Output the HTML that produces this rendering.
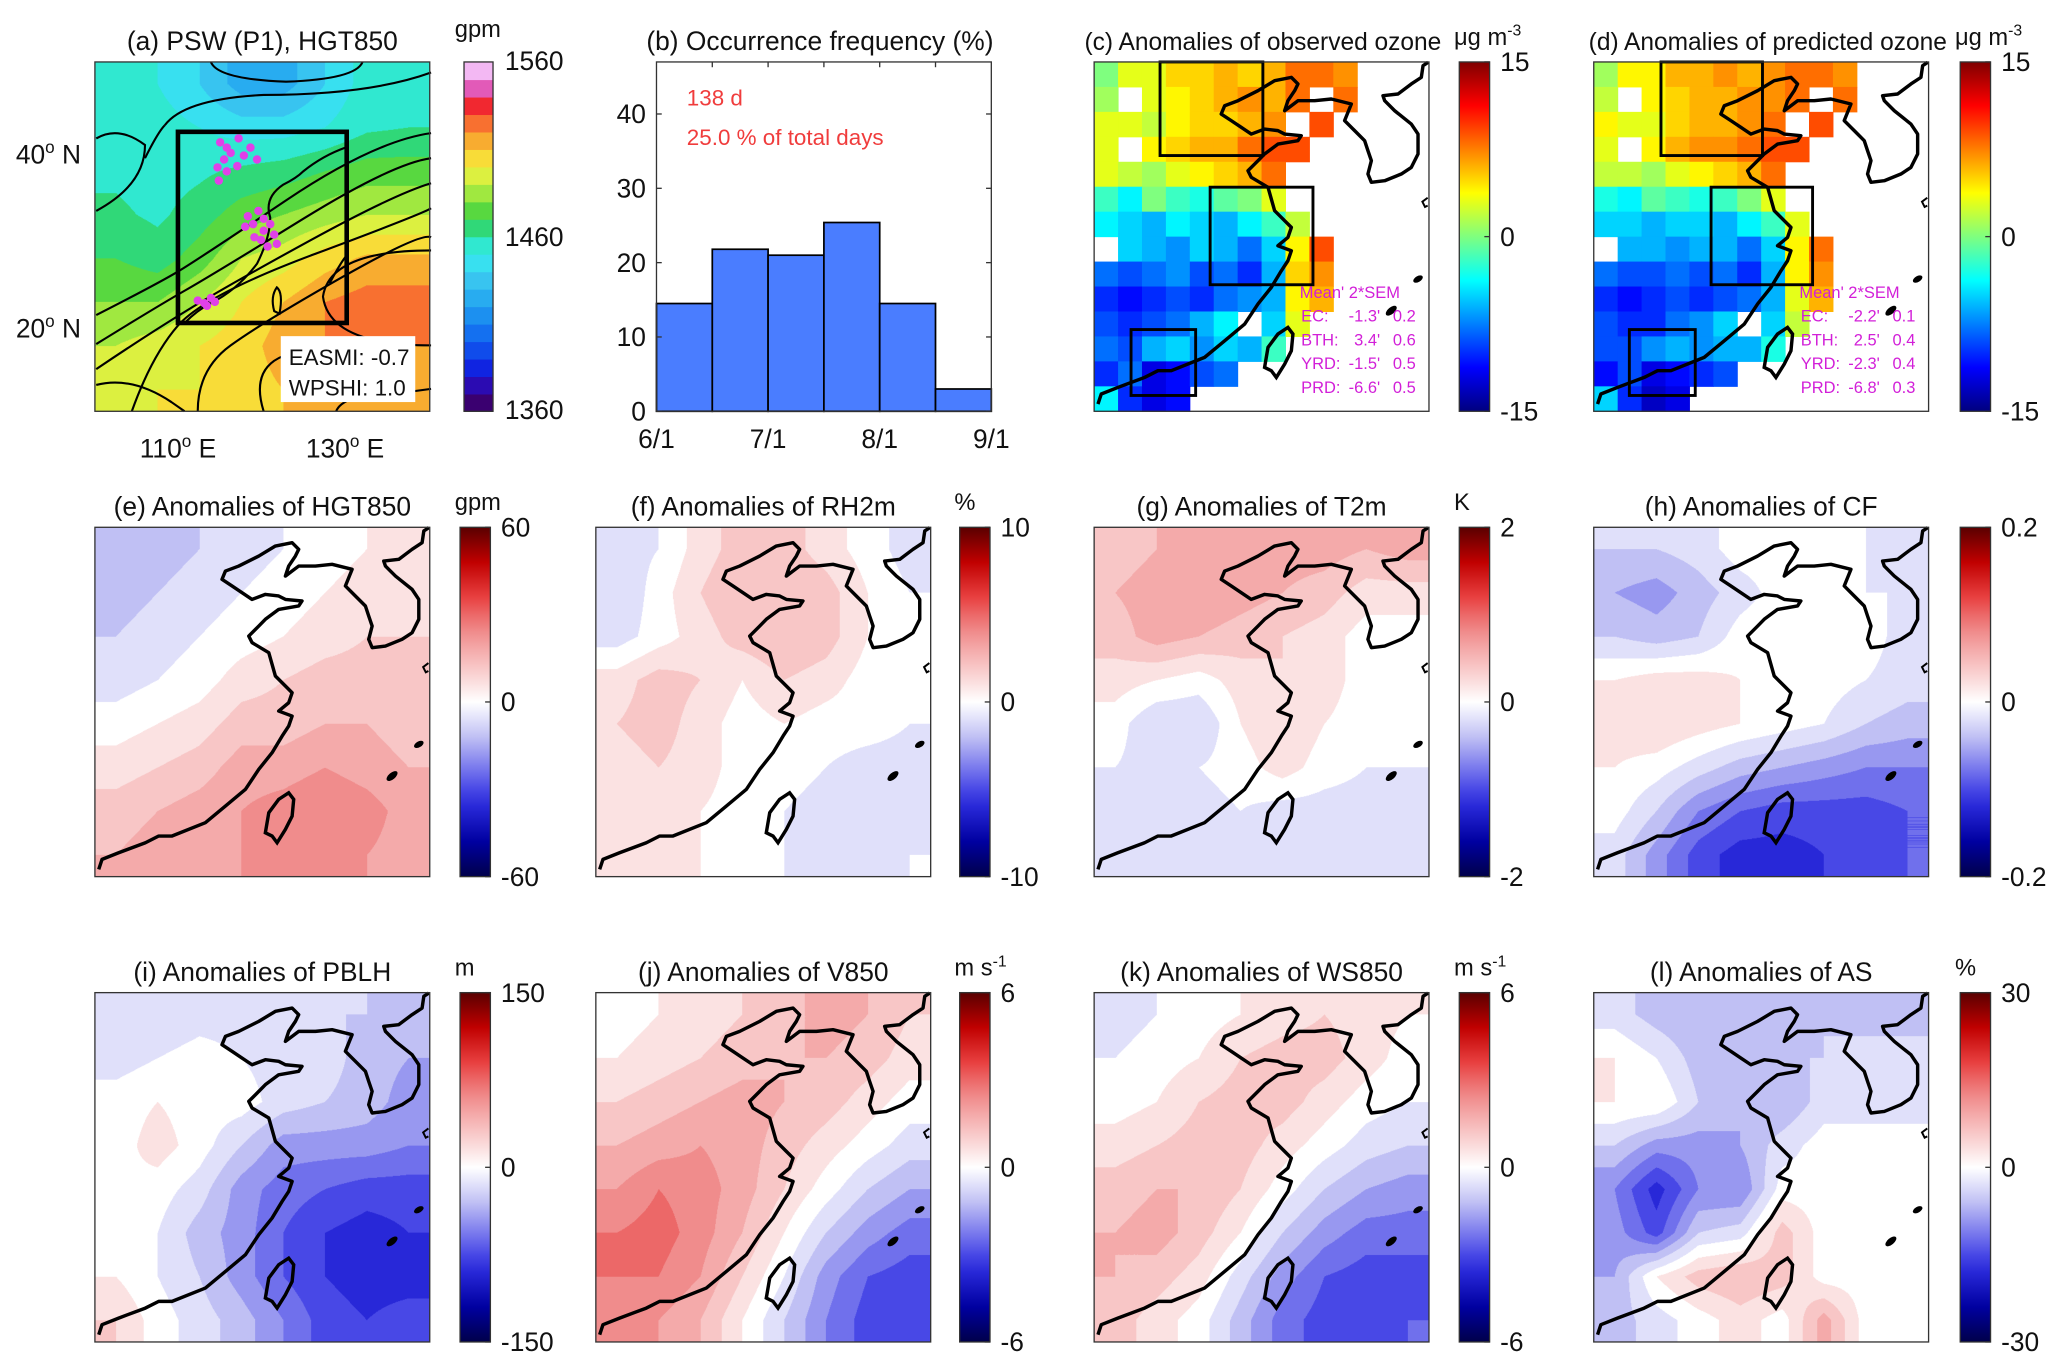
<!DOCTYPE html>
<html><head><meta charset="utf-8">
<style>
html,body{margin:0;padding:0;background:#fff;}
#wrap{position:relative;width:1568px;height:1040px;transform:scale(1.31824);transform-origin:0 0;overflow:hidden;}
canvas{position:absolute;}
svg{position:absolute;left:0;top:0;}
text{font-family:"Liberation Sans",Arial,sans-serif;}
</style></head>
<body>
<div id="wrap">
<svg id="svg" width="1568" height="1040" viewBox="0 0 1568 1040"></svg>
</div>
<script>
// ---------- DATA ----------
const histCategories=["6/1-6/15","6/16-6/30","7/1-7/15","7/16-7/31","8/1-8/15","8/16-8/31"];
const histValues=[14.5,21.8,21.0,25.4,14.5,3.0];
const histYTicks=[0,10,20,30,40];
const histXTickLabels=["6/1","7/1","8/1","9/1"];

const hgtField=[
[1455,1450,1440,1425,1425,1440,1455,1455],
[1455,1455,1450,1445,1445,1450,1458,1460],
[1458,1455,1458,1462,1465,1470,1475,1475],
[1462,1458,1465,1475,1480,1485,1490,1490],
[1470,1465,1475,1490,1495,1505,1512,1512],
[1480,1480,1490,1500,1510,1520,1525,1525],
[1490,1495,1500,1505,1515,1520,1522,1520],
[1495,1500,1500,1505,1510,1515,1512,1510]];

const N=null;
const ozoneObs=[
[0,3,3,5,5,6,5,6,8,8,7,N,N,N],
[1,N,3,4,5,6,7,6,8,N,8,N,N,N],
[3,3,2,4,5,5,6,7,N,9,N,N,N,N],
[3,N,4,5,6,6,8,9,9,N,N,N,N,N],
[3,2,1,3,4,5,6,8,N,N,N,N,N,N],
[-2,-4,0,-2,-3,-1,0,3,N,N,N,N,N,N],
[-4,-5,-6,-4,-5,-6,-4,-2,2,N,N,N,N,N],
[N,-5,-6,-7,-5,-6,-8,-5,4,9,N,N,N,N],
[-8,-9,-8,-7,-9,-8,-10,-6,5,7,N,N,N,N],
[-10,-11,-10,-9,-10,-8,-7,-6,4,6,N,N,N,N],
[-9,-10,-9,-8,-6,-4,N,-5,3,N,N,N,N,N],
[-8,-9,-6,-5,-7,-5,-6,-2,N,N,N,N,N,N],
[-10,-8,-12,-11,-9,-8,N,N,N,N,N,N,N,N],
[-4,-10,-12,-11,N,N,N,N,N,N,N,N,N,N]];
const ozonePred=[
[1,4,4,6,6,7,6,7,8,8,7,N,N,N],
[2,N,4,5,6,6,7,7,8,N,8,N,N,N],
[4,3,3,5,6,6,7,8,N,9,N,N,N,N],
[3,N,4,6,7,7,8,9,9,N,N,N,N,N],
[2,2,1,3,4,5,6,8,N,N,N,N,N,N],
[-3,-4,-1,-2,-3,-2,0,3,N,N,N,N,N,N],
[-5,-5,-6,-5,-5,-6,-4,-2,3,N,N,N,N,N],
[N,-6,-6,-7,-6,-6,-8,-5,4,8,N,N,N,N],
[-8,-9,-9,-8,-9,-8,-10,-6,4,7,N,N,N,N],
[-10,-11,-10,-9,-10,-9,-8,-6,3,6,N,N,N,N],
[-9,-10,-10,-8,-7,-5,N,-5,2,N,N,N,N,N],
[-9,-9,-7,-6,-7,-6,-6,-3,N,N,N,N,N,N],
[-11,-9,-12,-11,-10,-9,N,N,N,N,N,N,N,N],
[-5,-10,-13,-12,N,N,N,N,N,N,N,N,N,N]];

const anomHGT=[
[-.2,-.2,-.15,-.1,-.05,0,.05,.05],[-.2,-.15,-.1,-.05,0,.05,.1,.1],[-.15,-.1,-.05,0,.05,.1,.15,.15],
[-.1,-.05,0,.1,.15,.2,.2,.2],[0,.05,.1,.2,.2,.25,.25,.2],[.1,.15,.2,.3,.3,.35,.3,.25],
[.2,.25,.3,.35,.4,.45,.4,.3],[.25,.3,.3,.35,.4,.4,.35,.3]];
const anomRH=[
[-.1,-.05,.1,.2,.2,.1,0,-.1],[-.15,0,.15,.25,.25,.2,.05,-.05],[-.1,0,.1,.2,.25,.2,.05,0],
[.1,.2,.15,.05,.15,.1,0,0],[.15,.2,.1,0,.05,0,0,-.05],[.1,.15,.1,0,0,-.05,-.1,-.1],
[.15,.1,.05,0,-.05,-.1,-.15,-.1],[.1,.1,.05,0,-.05,-.1,-.1,-.05]];
const anomT2=[
[.2,.25,.3,.3,.3,.3,.25,.3],[.25,.3,.35,.3,.25,.2,.1,.1],[.2,.3,.25,.2,.15,.1,0,0],
[.1,.05,0,.1,.15,.1,0,0],[0,-.15,-.15,.05,.15,.05,0,0],[-.05,-.1,-.05,0,.1,0,-.05,-.05],
[-.1,-.1,-.1,-.05,-.1,-.1,-.1,-.1],[-.15,-.1,-.1,-.1,-.15,-.15,-.1,-.1]];
const anomCF=[
[-.15,-.15,-.1,0,0,0,-.05,-.1],[-.25,-.3,-.2,-.1,0,0,-.05,-.05],[-.15,-.2,-.15,0,.05,0,0,-.1],
[.05,.1,.1,.05,0,0,-.05,-.1],[.1,.15,.1,.05,0,-.05,-.15,-.2],[.05,0,-.1,-.2,-.25,-.3,-.35,-.35],
[0,-.15,-.35,-.45,-.5,-.5,-.5,-.45],[-.1,-.3,-.5,-.6,-.6,-.55,-.5,-.45]];
const anomPBLH=[
[-.15,-.15,-.1,-.1,-.1,-.15,-.15,-.2],[-.1,-.05,0,-.05,-.1,-.1,-.2,-.25],[0,.05,0,0,-.1,-.15,-.2,-.3],
[0,.1,0,-.15,-.3,-.3,-.3,-.35],[.05,0,-.1,-.3,-.4,-.45,-.5,-.5],[0,-.05,-.2,-.3,-.45,-.55,-.6,-.55],
[.05,-.05,-.15,-.3,-.45,-.55,-.6,-.6],[.15,0,-.1,-.2,-.35,-.5,-.55,-.5]];
const anomV850=[
[0,.05,.1,.15,.2,.3,.25,.15],[.05,.1,.15,.2,.25,.25,.2,.1],[.15,.2,.25,.3,.25,.2,.1,0],
[.25,.3,.35,.3,.2,.1,0,-.1],[.35,.45,.4,.3,.15,0,-.15,-.25],[.45,.5,.4,.25,.05,-.15,-.3,-.4],
[.45,.45,.35,.15,-.05,-.3,-.45,-.5],[.4,.35,.25,.05,-.15,-.35,-.5,-.55]];
const anomWS850=[
[-.1,-.05,0,.05,.1,.15,.1,.05],[-.05,0,.05,.15,.2,.2,.1,0],[0,.05,.15,.2,.2,.1,0,-.05],
[.1,.15,.2,.2,.1,0,-.1,-.15],[.2,.25,.25,.15,0,-.15,-.25,-.3],[.25,.3,.2,.05,-.15,-.3,-.4,-.4],
[.25,.2,.1,-.1,-.3,-.45,-.5,-.5],[.2,.1,0,-.2,-.4,-.5,-.5,-.45]];
const anomAS=[
[-.1,-.2,-.25,-.2,-.2,-.15,-.2,-.2],[.05,-.05,-.2,-.2,-.15,-.15,-.1,-.1],[.05,.05,-.15,-.25,-.25,-.1,-.1,-.1],
[-.15,-.3,-.3,-.25,-.1,0,0,0],[-.35,-.6,-.35,-.35,0,0,0,0],[-.3,-.5,-.15,-.1,.2,0,0,0],
[-.25,.05,.2,.25,.2,0,0,0],[-.2,-.1,0,.1,0,.3,0,0]];

const statsLabels=["EC:","BTH:","YRD:","PRD:"];
const statsObsMean=[-1.3,3.4,-1.5,-6.6];
const statsObsSem=[0.2,0.6,0.5,0.5];
const statsPredMean=[-2.2,2.5,-2.3,-6.8];
const statsPredSem=[0.1,0.4,0.4,0.3];

// ---------- HELPERS ----------
const svg=document.getElementById('svg');
const NS='http://www.w3.org/2000/svg';
const wrap=document.getElementById('wrap');
function mk(tag,attrs,parent){const e=document.createElementNS(NS,tag);for(const k in attrs)e.setAttribute(k,attrs[k]);(parent||svg).appendChild(e);return e;}
function txt(x,y,s,size,anchor,parent,fill){const t=mk('text',{x:x,y:y,'font-size':size||20,'text-anchor':anchor||'start'},parent);t.style.fill=fill||'#111';t.textContent=s;return t;}
function hex(h){return [parseInt(h.substr(1,2),16),parseInt(h.substr(3,2),16),parseInt(h.substr(5,2),16)];}
function ramp(stops,t){t=Math.max(0,Math.min(1,t));for(let i=1;i<stops.length;i++){if(t<=stops[i][0]){const a=stops[i-1],b=stops[i];const f=(t-a[0])/(b[0]-a[0]||1);const ca=hex(a[1]),cb=hex(b[1]);return [0,1,2].map(k=>Math.round(ca[k]+(cb[k]-ca[k])*f));}}return hex(stops[stops.length-1][1]);}
const divStops=[[0,'#00004a'],[0.1,'#0000a0'],[0.2,'#2828d8'],[0.25,'#4848e6'],[0.3,'#7070ec'],[0.35,'#9898f0'],[0.4,'#c0c0f4'],[0.45,'#e0e0fa'],[0.5,'#ffffff'],[0.55,'#fbe2e2'],[0.6,'#f8c6c6'],[0.65,'#f4aaaa'],[0.7,'#f08c8c'],[0.75,'#ec6868'],[0.8,'#e84040'],[0.9,'#c00000'],[1,'#5a0000']];
const jetStops=[[0,'#00007f'],[0.125,'#0000ff'],[0.375,'#00ffff'],[0.5,'#7fff7f'],[0.625,'#ffff00'],[0.875,'#ff0000'],[1,'#7f0000']];
const gpmStops=[[0,'#3a0048'],[0.05,'#3a0098'],[0.12,'#1020e0'],[0.2,'#1060f0'],[0.3,'#20a0f0'],[0.4,'#40d0f0'],[0.45,'#30f0f0'],[0.5,'#30e0b0'],[0.55,'#30d040'],[0.6,'#80e040'],[0.65,'#c0f040'],[0.7,'#f8f040'],[0.75,'#f8c830'],[0.8,'#f89030'],[0.85,'#f85030'],[0.88,'#f02030'],[0.92,'#e050b0'],[0.96,'#f0a0f0'],[1,'#f8e0f8']];
function css(c){return 'rgb('+c.join(',')+')';}
function gradient(id,stops){const d=svg.querySelector('defs')||mk('defs',{});const g=mk('linearGradient',{id:id,x1:0,y1:1,x2:0,y2:0},d);stops.forEach(s=>mk('stop',{offset:s[0],'stop-color':s[1]},g));}
gradient('gDiv',divStops);gradient('gJet',jetStops);

function sampleGrid(g,x,y){const n=g.length,m=g[0].length;let gx=x*m-0.5,gy=y*n-0.5;gx=Math.max(0,Math.min(m-1,gx));gy=Math.max(0,Math.min(n-1,gy));
 const i0=Math.floor(gx),j0=Math.floor(gy),i1=Math.min(m-1,i0+1),j1=Math.min(n-1,j0+1),fx=gx-i0,fy=gy-j0;
 return g[j0][i0]*(1-fx)*(1-fy)+g[j0][i1]*fx*(1-fy)+g[j1][i0]*(1-fx)*fy+g[j1][i1]*fx*fy;}
function fieldCanvas(name,x,y,w,h,grid,colorFn){const c=document.createElement('canvas');
 const S=2;c.width=w*S;c.height=h*S;c.style.left=x+'px';c.style.top=y+'px';c.style.width=w+'px';c.style.height=h+'px';
 const ctx=c.getContext('2d');const im=ctx.createImageData(c.width,c.height);
 for(let py=0;py<c.height;py++)for(let px=0;px<c.width;px++){const v=sampleGrid(grid,(px+0.5)/c.width,(py+0.5)/c.height);const col=colorFn(v);const o=(py*c.width+px)*4;im.data[o]=col[0];im.data[o+1]=col[1];im.data[o+2]=col[2];im.data[o+3]=255;}
 ctx.putImageData(im,0,0);wrap.insertBefore(c,svg);}

const coastMain="M2.9,259.5 L5.4,251.9 18,246.9 38.3,239.3 48.4,234.2 58.5,234.2 83.8,224.1 99,211.5 114.2,198.8 124.3,183.6 134.4,171 142,158.4 147,150.8 149.6,143.2 139.4,139.4 147,133.1 149.6,125.5 144.5,120.4 136.9,112.8 131.9,95.1 119.2,87.5 116.7,82.5 124.3,74.9 129.3,69.8 139.4,62.3 154.6,59.7 157.1,55.9 144.5,54.7 139.4,52.1 129.3,50.9 119.2,54.7 111.6,49.6 104,44.5 96.4,39.5 99,33.2 109.1,29.4 124.3,21.8 136.9,14.2 149.6,11.7 154.6,16.7 152.1,21.8 147,29.4 144.5,37 149.6,33.2 154.6,29.4 167.3,29.4 179.9,28.1 195.1,31.9 190,44.5 197.6,52.1 205.2,59.7 207.7,67.3 210.3,74.9 207.7,85 210.3,91.3 220.4,90.1 233,85 240.6,80 245.7,69.8 245.7,54.7 240.6,47.1 228,37 220.4,29.4 219.1,25.6 230.5,24.3 240.6,16.7 248.2,11.7 249.5,2.8 253.3,0.3";
const taiwan="M129.3,231.7 L131.9,216.5 139.4,206.4 147,201.4 150.8,206.4 149.6,219.1 144.5,229.2 138.2,239.3 134.4,234.2 Z";
function drawCoast(x,y,prefix){const g=mk('g',{transform:'translate('+x+','+y+')'});
 mk('path',{d:coastMain,fill:'none',stroke:'#000','stroke-width':2.6,'stroke-linejoin':'round'},g);
 mk('path',{d:taiwan,fill:'none',stroke:'#000','stroke-width':2.6},g);
 mk('ellipse',{cx:225.4,cy:188.7,rx:5,ry:2.5,transform:'rotate(-40 225.4 188.7)',fill:'#000'},g);
 mk('ellipse',{cx:245.7,cy:164.7,rx:4,ry:2.2,transform:'rotate(-30 245.7 164.7)',fill:'#000'},g);
 mk('path',{d:'M253,103 L249,106 251,110 253,109',fill:'none',stroke:'#000','stroke-width':1.5},g);}
function frame(x,y,w,h,name){const r=mk('rect',{x:x,y:y,width:w,height:h,fill:'none',stroke:'#333','stroke-width':1});}
function colorbar(x,y,h,grad,labels,unit,unitSup,name){const g=mk('g',{});
 if(grad)mk('rect',{x:x,y:y,width:23,height:h,fill:'url(#'+grad+')',stroke:'#333','stroke-width':1},g);
 labels.forEach((l,i)=>{const yy=y+h*i/(labels.length-1);txt(x+31,yy+7,l,20,'start',g);mk('line',{x1:x+19,x2:x+23,y1:yy,y2:yy,stroke:'#333'},g);});
 if(unit){const t=txt(x-4,y-13,unit,18,'start',g);if(unitSup){const s=mk('tspan',{dy:-7,'font-size':12},t);s.textContent=unitSup;}}}

// ---------- PANEL A ----------
const PW=254,PH=265;
const aX=72,aY=47;
fieldCanvas('panel-a-hgt850-field',aX,aY,PW,PH,hgtField,v=>{const t=(v-1360)/200;const q=Math.floor(t*20)/20+0.025;return ramp(gpmStops,q);});
(function(){const g=mk('g',{});
 const lines=["M73,239 Q120,215 135,206 T217,152 T327,101","M73,261 Q120,232 141,220 T230,166 T327,120","M73,280 Q110,255 141,236 T236,182 T327,139","M100,312 Q115,270 135,247 T238,193 T327,158","M150,312 Q150,280 175,262 T260,210 T327,180","M327,190 Q250,190 245,225 Q250,262 327,262","M160,47 Q165,60 217,62 Q270,60 275,47","M125,95 Q140,75 200,72 Q280,72 327,55","M73,105 Q90,95 110,110 Q110,140 73,160","M73,292 Q100,285 130,305 L140,312","M200,312 Q190,280 215,270","M255,312 Q260,300 290,300 L327,295","M110,120 Q120,100 125,95"];
 lines.forEach(d=>mk('path',{d:d,fill:'none',stroke:'#000','stroke-width':1.6},g));
 mk('path',{d:'M140,245 Q150,235 160,230 Q180,220 195,200 Q205,180 205,165 Q200,150 215,140 Q225,135 230,130 Q245,118 262,112',fill:'none',stroke:'#000','stroke-width':1.6},g);
 mk('path',{d:'M208,236 Q205,225 210,218 Q215,222 212,238 Z',fill:'none',stroke:'#000','stroke-width':1.6},g);
 mk('path',{d:'M250,215 Q258,200 262,195',fill:'none',stroke:'#000','stroke-width':1.6},g);
})();
(function(){const g=mk('g',{});
 const pts=[[167,108],[172,112],[181,105],[175,116],[170,121],[185,118],[190,112],[195,121],[165,127],[172,130],[166,137],[180,126],[188,164],[192,170],[196,160],[200,175],[205,170],[198,182],[203,187],[208,178],[186,172],[193,180],[210,185],[200,166],[150,228],[155,230],[160,226],[157,232],[163,229]];
 pts.forEach(p=>mk('circle',{cx:p[0],cy:p[1],r:3.2,fill:'#e040e8'},g));})();
mk('rect',{x:135,y:100,width:128,height:145,fill:'none',stroke:'#000','stroke-width':3.5});
(function(){const g=mk('g',{});
 mk('rect',{x:213,y:255,width:102,height:50,fill:'#fff'},g);txt(219,277,'EASMI:  -0.7',17,'start',g);txt(219,300,'WPSHI:   1.0',17,'start',g);})();
frame(aX,aY,PW,PH,'panel-a-frame');
txt(199,38,'(a) PSW (P1), HGT850',20,'middle');
(function(){function deg(x,y,n,s,name){const t=txt(x,y,n,20);const a=mk('tspan',{dy:-8,'font-size':13},t);a.textContent='o';const b=mk('tspan',{dy:8},t);b.textContent=' '+s;}
 deg(12,124,'40','N','lat-40n');deg(12,256,'20','N','lat-20n');deg(106,347,'110','E','lon-110e');deg(232,347,'130','E','lon-130e');})();
(function(){const g=mk('g',{});
 const n=20,h=PH/n;for(let i=0;i<n;i++){const c=ramp(gpmStops,(i+0.5)/n);mk('rect',{x:352,y:aY+PH-(i+1)*h,width:22,height:h+0.5,fill:css(c)},g);}
 mk('rect',{x:352,y:aY,width:22,height:PH,fill:'none',stroke:'#333'},g);
 txt(383,aY+6,'1560',20,'start',g);txt(383,aY+PH/2+7,'1460',20,'start',g);txt(383,aY+PH+6,'1360',20,'start',g);
 txt(345,28,'gpm',18,'start',g);})();

// ---------- PANEL B ----------
(function(){const bx=498,by=47,bw=254,bh=265,ymax=47;
 const g=mk('g',{});
 const X=i=>bx+bw*i/histValues.length, Y=v=>by+bh-bh*v/ymax;
 histValues.forEach((v,i)=>{const r=mk('rect',{x:X(i),y:Y(v),width:bw/histValues.length,height:Y(0)-Y(v),fill:'#4a7dff',stroke:'#000','stroke-width':1.3},g);
  });
 mk('rect',{x:bx,y:by,width:bw,height:bh,fill:'none',stroke:'#333'},g);
 histYTicks.forEach(t=>{const yy=Y(t);mk('line',{x1:bx,x2:bx+4,y1:yy,y2:yy,stroke:'#333'},g);mk('line',{x1:bx+bw-4,x2:bx+bw,y1:yy,y2:yy,stroke:'#333'},g);
  txt(bx-8,yy+7,String(t),20,'end',g);});
 histXTickLabels.forEach((l,i)=>{const xx=bx+bw*i/(histXTickLabels.length-1);txt(xx,340,l,20,'middle',g);});
 for(let i=1;i<6;i++){const xx=bx+bw*i/6;mk('line',{x1:xx,x2:xx,y1:by,y2:by+4,stroke:'#333'},g);}
 txt(bx+23,80,'138 d',17,'start',g,'#f03c3c');txt(bx+23,110,'25.0 % of total days',17,'start',g,'#f03c3c');
 txt(622,38,'(b) Occurrence frequency (%)',20,'middle');})();

// ---------- PANELS C, D ----------
function ozonePanel(x,grid,title,meanArr,semArr,key,boxes){
 const g=mk('g',{});
 const rows=grid.length,cols=grid[0].length,cw=PW/cols,ch=PH/rows;
 grid.forEach((row,j)=>row.forEach((v,i)=>{if(v===null)return;const r=mk('rect',{x:x+i*cw,y:47+j*ch,width:cw+0.4,height:ch+0.4,fill:css(ramp(jetStops,(v+15)/30))},g);
  }));
 drawCoast(x,47,key);
 boxes.forEach(b=>{const r=mk('rect',{x:x+b[0],y:47+b[1],width:b[2],height:b[3],fill:'none',stroke:'#000','stroke-width':2.2});});
 const s=mk('g',{});
 txt(x+156,226,"Mean'  2*SEM",12.5,'start',s,'#d21fd8');
 statsLabels.forEach((l,i)=>{const yy=244+i*18;txt(x+157,yy,l,12.5,'start',s,'#d21fd8');txt(x+217,yy,meanArr[i].toFixed(1)+"'",12.5,'end',s,'#d21fd8');txt(x+244,yy,semArr[i].toFixed(1),12.5,'end',s,'#d21fd8');});
 frame(x,47,PW,PH,key+'-frame');
 txt(x+(key==='panel-c'?128:132),38,title,18.6,'middle');}
ozonePanel(830,ozoneObs,'(c) Anomalies of observed ozone',statsObsMean,statsObsSem,'panel-c',[[50,0,78,71],[88,95,78,74],[28,203,49,50]]);
ozonePanel(1209,ozonePred,'(d) Anomalies of predicted ozone',statsPredMean,statsPredSem,'panel-d',[[51,0,77,71],[89,95,77,74],[27,203,50,50]]);
colorbar(1107,47,PH,'gJet',['15','0','-15'],'\u03bcg m','-3','panel-c-colorbar');
colorbar(1487,47,PH,'gJet',['15','0','-15'],'\u03bcg m','-3','panel-d-colorbar');

// ---------- ANOMALY PANELS ----------
const anomPanels=[
 ['e','(e) Anomalies of HGT850',anomHGT,72,400,['60','0','-60'],'gpm',''],
 ['f','(f) Anomalies of RH2m',anomRH,452,400,['10','0','-10'],'%',''],
 ['g','(g) Anomalies of T2m',anomT2,830,400,['2','0','-2'],'K',''],
 ['h','(h) Anomalies of CF',anomCF,1209,400,['0.2','0','-0.2'],'',''],
 ['i','(i) Anomalies of PBLH',anomPBLH,72,753,['150','0','-150'],'m',''],
 ['j','(j) Anomalies of V850',anomV850,452,753,['6','0','-6'],'m s','-1'],
 ['k','(k) Anomalies of WS850',anomWS850,830,753,['6','0','-6'],'m s','-1'],
 ['l','(l) Anomalies of AS',anomAS,1209,753,['30','0','-30'],'%','']];
const cbX={72:349,452:728,830:1107,1209:1487};
anomPanels.forEach(p=>{const [k,title,grid,x,y,labels,unit,sup]=p;
 fieldCanvas('panel-'+k+'-field',x,y,PW,PH,grid,v=>{const q=Math.round(v*10)/10;return ramp(divStops,(q+1)/2);});
 drawCoast(x,y,'panel-'+k);
 frame(x,y,PW,PH,'panel-'+k+'-frame');
 txt(x+127,y-9,title,20,'middle');
 colorbar(cbX[x],y,PH,'gDiv',labels,unit,sup,'panel-'+k+'-colorbar');});
</script>
</body></html>
